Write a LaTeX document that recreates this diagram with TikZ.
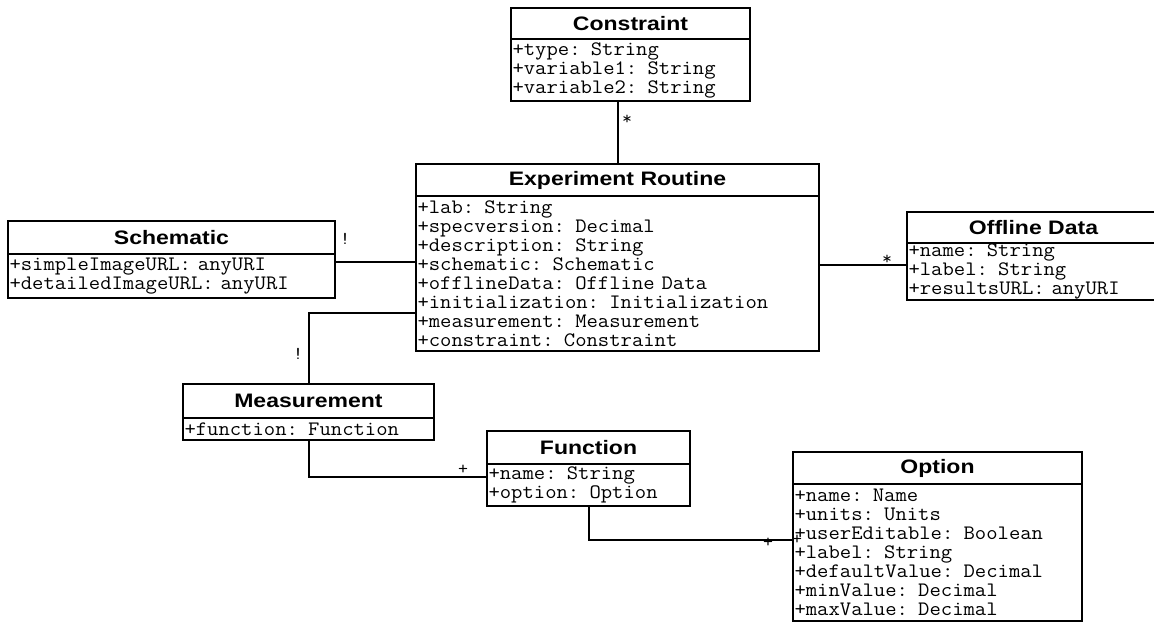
\documentclass[tikz,border=0pt]{standalone}
\usepackage{fontspec}
\newfontfamily\titlef[FakeStretch=1.18]{Liberation Sans Bold}
\newfontfamily\attrf[FakeStretch=1.075]{Latin Modern Mono}
\newcommand\attrfont{\attrf\fontsize{20.5}{19}\selectfont}
\newcommand\multfont{\attrf\fontsize{18}{18}\selectfont}
\begin{document}
\begin{tikzpicture}[x=1pt,y=-1pt,
  classtitle/.style n args={2}{draw, line width=2pt, anchor=north west, inner sep=0pt,
    minimum width=#1pt, minimum height=#2pt, font=\titlef\fontsize{19.5}{21}\selectfont},
  classattrs/.style n args={2}{draw, line width=2pt, anchor=north west, inner xsep=1.5pt,
    inner ysep=0pt, align=left, minimum width=#1pt, text width=#1pt-3pt,
    minimum height=#2pt, font=\attrfont},
  assoc/.style={line width=2pt},
  mult/.style={inner sep=0pt, font=\multfont}]
\useasboundingbox (0,0) rectangle (1154,622);

% ---- Constraint
\node[classtitle={239}{31}] (conT) at (510,7) {Constraint};
\node[classattrs={239}{62}] (conA) at (510,38)
  {+type: String\\+variable1: String\\+variable2: String};

% ---- Experiment Routine
\node[classtitle={403}{32}] (erT) at (415,163) {Experiment Routine};
\node[classattrs={403}{155}] (erA) at (415,195)
  {+lab: String\\+specversion: Decimal\\+description: String\\+schematic: Schematic\\%
   +offlineData: Offline Data\\+initialization: Initialization\\%
   +measurement: Measurement\\+constraint: Constraint};

% ---- Schematic
\node[classtitle={327}{33}] (schT) at (7,220) {Schematic};
\node[classattrs={327}{44}] (schA) at (7,253)
  {+simpleImageURL: anyURI\\+detailedImageURL: anyURI};

% ---- Offline Data
\node[classtitle={253}{31}] (offT) at (906,211) {Offline Data};
\node[classattrs={253}{57}] (offA) at (906,242)
  {+name: String\\+label: String\\+resultsURL: anyURI};

% ---- Measurement
\node[classtitle={251}{34}] (meaT) at (182,383) {Measurement};
\node[classattrs={251}{22}] (meaA) at (182,417) {+function: Function};

% ---- Function
\node[classtitle={203}{33}] (funT) at (486,430) {Function};
\node[classattrs={203}{42}] (funA) at (486,463) {+name: String\\+option: Option};

% ---- Option
\node[classtitle={289}{32}] (optT) at (792,451) {Option};
\node[classattrs={289}{137}] (optA) at (792,483)
  {+name: Name\\+units: Units\\+userEditable: Boolean\\+label: String\\%
   +defaultValue: Decimal\\+minValue: Decimal\\+maxValue: Decimal};

% ---- levels of the horizontal runs
\coordinate (schY) at (0,262);
\coordinate (meaY) at (0,313);
\coordinate (offY) at (0,265);
\coordinate (funY) at (0,477);
\coordinate (optY) at (0,540);

% ---- associations
\draw[assoc] (erT.north) -- (erT.north |- conA.south);
\draw[assoc] (schA.east |- schY) -- (erA.west |- schY);
\draw[assoc] (erA.west |- meaY) -| (meaT.north);
\draw[assoc] (erA.east |- offY) -- (offA.west |- offY);
\draw[assoc] (meaA.south) |- (funA.west |- funY);
\draw[assoc] (funA.south) |- (optA.west |- optY);

% ---- multiplicities
\node[mult] (m1) at (627,120) {*};
\node[mult] (m2) at (345,239) {!};
\node[mult] (m3) at (298,354) {!};
\node[mult] (m4) at (463,470) {+};
\node[mult] (m5) at (768,543) {+};
\node[mult] (m6) at (797,540) {+};
\node[mult] (m7) at (887,260) {*};
\end{tikzpicture}
\end{document}
